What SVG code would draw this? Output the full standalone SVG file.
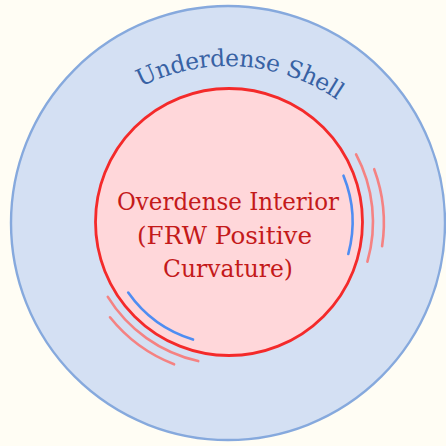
<svg xmlns="http://www.w3.org/2000/svg" width="446" height="446" viewBox="0 0 446 446">
  <style>
    .serif { font-family: "DejaVu Serif", serif; }
    .shell-label { font-size: 23.5px; fill: #3862a4; letter-spacing: -0.4px; }
    .interior-label { font-size: 24.5px; fill: #c41a1a; }
    .ripple { fill: none; stroke-width: 2.6; stroke-linecap: round; }
    .ripple-in { stroke: #4f8df2; }
    .ripple-out { stroke: #f58282; }
  </style>
  <defs>
    <!-- baseline arc for the shell label -->
    <path id="shellArc" d="M47.6,192.3 A192,192 0 0 1 408.4,192.3"/>
  </defs>

  <rect width="446" height="446" fill="#fffdf4"/>

  <!-- underdense shell -->
  <g id="shell">
    <circle cx="228" cy="223" r="217" fill="#d4e0f3" stroke="#86a9dd" stroke-width="2.4"/>
    <text class="serif shell-label"><textPath href="#shellArc" startOffset="247" text-anchor="middle">Underdense Shell</textPath></text>
  </g>

  <!-- overdense interior -->
  <g id="interior">
    <circle cx="229" cy="222" r="133.5" fill="#ffd7da" stroke="#f42a2a" stroke-width="2.8"/>
    <text class="serif interior-label" x="117" y="209.5" textLength="222" lengthAdjust="spacingAndGlyphs">Overdense Interior</text>
    <text class="serif interior-label" x="137" y="244" textLength="175" lengthAdjust="spacingAndGlyphs">(FRW Positive</text>
    <text class="serif interior-label" x="163" y="277" textLength="130" lengthAdjust="spacingAndGlyphs">Curvature)</text>
  </g>

  <!-- ripples at the boundary -->
  <g id="ripples">
    <path class="ripple ripple-in" d="M343.5,175.7 A123.5,123.5 0 0 1 348.3,254"/>
    <path class="ripple ripple-out" d="M356.1,154.4 A144,144 0 0 1 367.4,261.7"/>
    <path class="ripple ripple-out" d="M374.2,169.2 A155,155 0 0 1 382.1,246.2"/>
    <path class="ripple ripple-in" d="M193,339.6 A123,123 0 0 1 128.2,292.6"/>
    <path class="ripple ripple-out" d="M198.2,361.1 A142.5,142.5 0 0 1 107.8,296.9"/>
    <path class="ripple ripple-out" d="M174.1,364.3 A152.5,152.5 0 0 1 110,317.3"/>
  </g>
</svg>
